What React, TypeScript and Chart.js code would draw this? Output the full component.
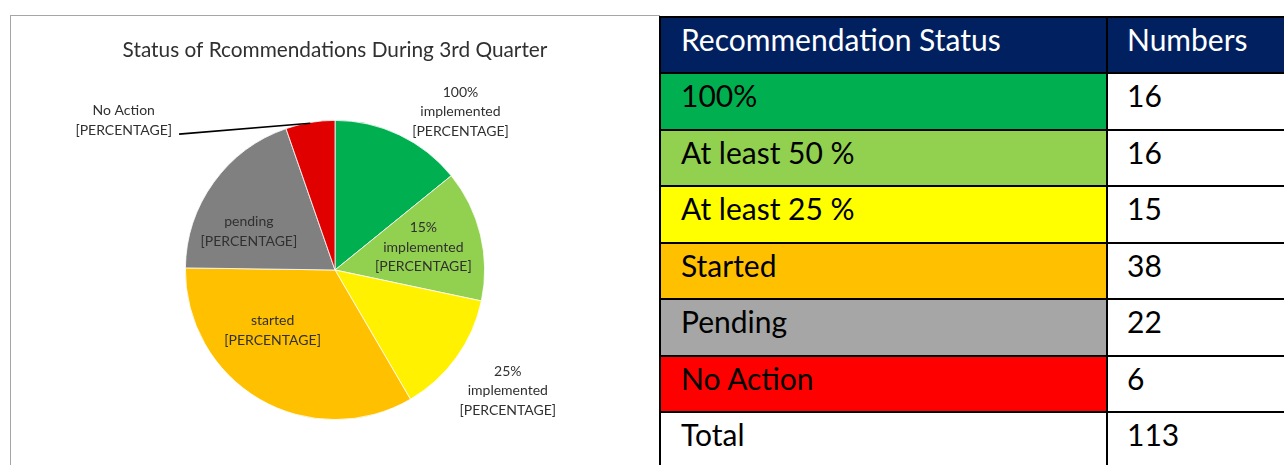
import React, { useEffect, useRef } from "react";
import { Chart, registerables } from "chart.js";

Chart.register(...registerables);

// ---- data ----
const chartTitle = "Status of Rcommendations During 3rd Quarter";
const statusNames = ["100%", "At least 50 %", "At least 25 %", "Started", "Pending", "No Action"];
const statusNumbers = [16, 16, 15, 38, 22, 6];
const pieLabelLines = [
  ["100%", "implemented", "[PERCENTAGE]"],
  ["15%", "implemented", "[PERCENTAGE]"],
  ["25%", "implemented", "[PERCENTAGE]"],
  ["started", "[PERCENTAGE]"],
  ["pending", "[PERCENTAGE]"],
  ["No Action", "[PERCENTAGE]"],
];
const tableHeaders = ["Recommendation Status", "Numbers"];
const totalLabel = "Total";

// ---- styles ----
const pieColors = ["#00B050", "#92D050", "#FFF100", "#FFC000", "#808080", "#E00000"];
const rowColors = ["#00B050", "#92D050", "#FFFF00", "#FFC000", "#A6A6A6", "#FF0000"];
// label placement: angle (deg clockwise from top) and radius factor relative to the pie
const labelAngles = [38.4, 75.5, 125, 226, 294, 305.3];
const labelRadii = [1.35, 0.61, 1.41, 0.58, 0.63, 1.73];
const labelLeader = [false, false, false, false, false, true];

const FONT = "Lato, 'Open Sans', sans-serif";
const textColor = "#303030";

const labelPlugin = {
  id: "pieLabels",
  afterDraw(chart: any) {
    const ctx = chart.ctx;
    const meta = chart.getDatasetMeta(0);
    const lineH = 19.5;
    ctx.save();
    ctx.font = `14px ${FONT}`;
    ctx.fillStyle = textColor;
    ctx.textAlign = "center";
    ctx.textBaseline = "middle";
    meta.data.forEach((arc: any, i: number) => {
      const cx = arc.x;
      const cy = arc.y;
      const R = arc.outerRadius;
      const a = (labelAngles[i] * Math.PI) / 180;
      const lx = cx + R * labelRadii[i] * Math.sin(a);
      const ly = cy - R * labelRadii[i] * Math.cos(a);
      const lines = pieLabelLines[i];
      const n = lines.length;
      lines.forEach((t, k) => {
        ctx.fillText(t, lx, ly + (k - (n - 1) / 2) * lineH);
      });
      if (labelLeader[i]) {
        const mid = (arc.startAngle + arc.endAngle) / 2;
        const sx = cx + R * 0.995 * Math.cos(mid);
        const sy = cy + R * 0.995 * Math.sin(mid);
        const last = lines[n - 1];
        const w = ctx.measureText(last).width;
        const ex = lx + w / 2 + 7;
        const ey = ly + ((n - 1) / 2) * lineH + 4;
        ctx.beginPath();
        ctx.strokeStyle = "#000000";
        ctx.lineWidth = 1.6;
        ctx.moveTo(sx, sy);
        ctx.lineTo(ex, ey);
        ctx.stroke();
      }
    });
    ctx.restore();
  },
};

function PieChart() {
  const ref = useRef<HTMLCanvasElement>(null);
  useEffect(() => {
    if (!ref.current) return;
    const chart = new Chart(ref.current, {
      type: "pie",
      data: {
        labels: statusNames,
        datasets: [
          {
            data: statusNumbers,
            backgroundColor: pieColors,
            borderColor: "#ffffff",
            borderWidth: 0.8,
          },
        ],
      },
      options: {
        responsive: false,
        animation: false,
        layout: { padding: { top: 0, bottom: 45, left: 2, right: 0 } },
        plugins: {
          legend: { display: false },
          tooltip: { enabled: false },
          title: {
            display: true,
            text: chartTitle,
            color: textColor,
            font: { family: FONT, size: 20.8, weight: "normal", lineHeight: 1.2 },
            padding: { top: 21.5, bottom: 57.5 },
          },
        },
      },
      plugins: [labelPlugin],
    } as any);
    return () => chart.destroy();
  }, []);
  return <canvas ref={ref} width={646} height={449} style={{ width: 646, height: 449, display: "block" }} />;
}

function StatusTable() {
  const total = statusNumbers.reduce((s, v) => s + v, 0);
  const rows = statusNames.map((name, i) => ({ name, value: String(statusNumbers[i]), bg: rowColors[i] }));
  rows.push({ name: totalLabel, value: String(total), bg: "#ffffff" });
  const rowH = 54.43;
  const cell = (bg: string, color: string, text: string, padL: number) => (
    <div
      style={{
        background: bg,
        color,
        height: rowH,
        boxSizing: "border-box",
        paddingLeft: padL,
        paddingTop: 3,
        fontFamily: FONT,
        fontSize: 30,
        lineHeight: "36px",
        whiteSpace: "nowrap",
        overflow: "hidden",
      }}
    >
      {text}
    </div>
  );
  return (
    <div
      style={{
        position: "absolute",
        left: 659,
        top: 16,
        width: 700,
        background: "#000000",
        padding: 2,
        display: "grid",
        gridTemplateColumns: "445px 1fr",
        gap: 2,
      }}
    >
      {cell("#002060", "#ffffff", tableHeaders[0], 20)}
      {cell("#002060", "#ffffff", tableHeaders[1], 19)}
      {rows.map((r, i) => (
        <React.Fragment key={i}>
          {cell(r.bg, "#000000", r.name, 20)}
          {cell("#ffffff", "#000000", r.value, 19)}
        </React.Fragment>
      ))}
    </div>
  );
}

export default function App() {
  return (
    <div
      style={{
        position: "fixed",
        left: 0,
        top: 0,
        width: 1284,
        height: 465,
        overflow: "hidden",
        background: "#ffffff",
      }}
    >
      <div
        style={{
          position: "absolute",
          left: 10,
          top: 15,
          width: 650,
          height: 480,
          border: "1px solid #a6a6a6",
          boxSizing: "border-box",
        }}
      >
        <PieChart />
      </div>
      <StatusTable />
    </div>
  );
}
